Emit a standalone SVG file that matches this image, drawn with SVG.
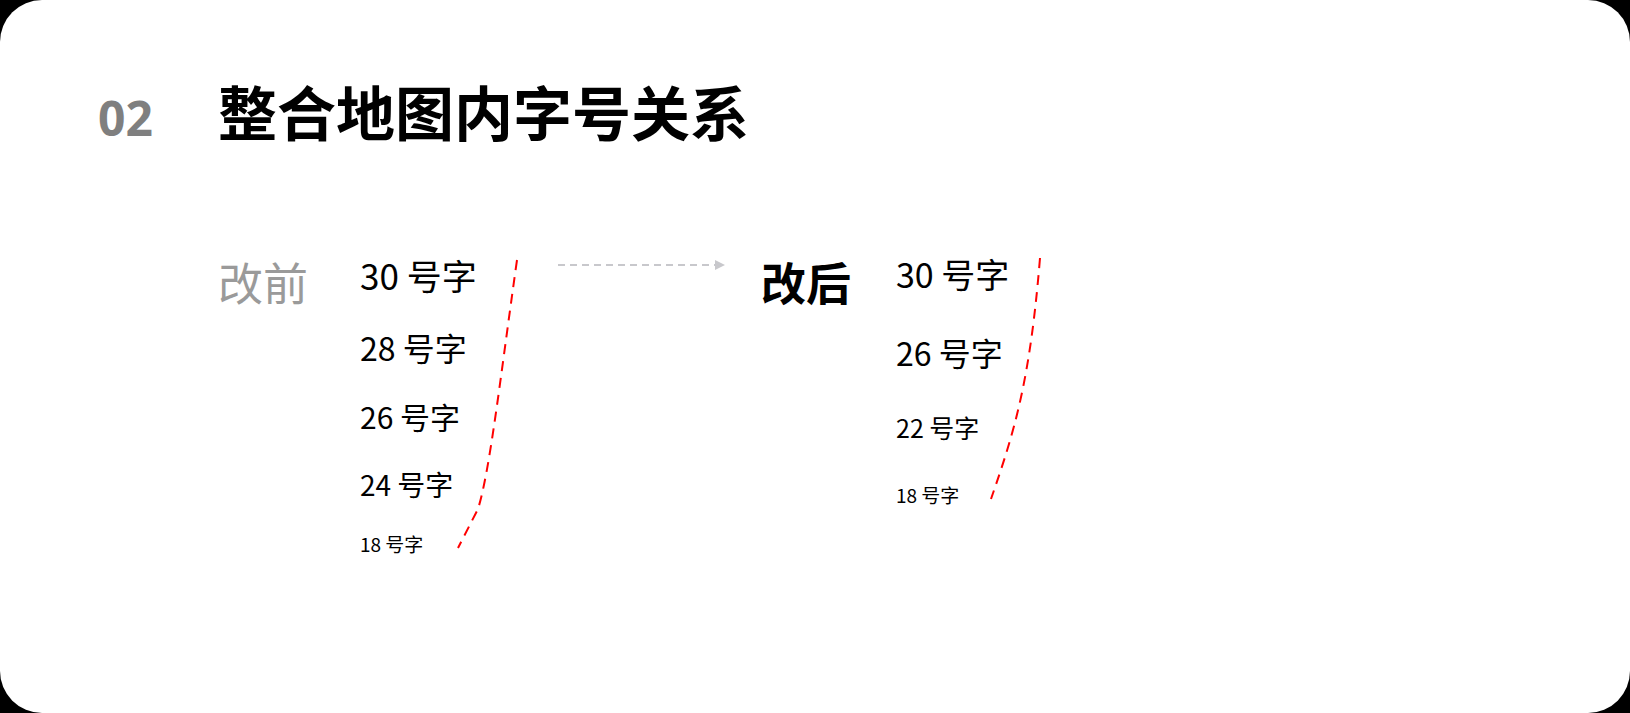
<svg xmlns="http://www.w3.org/2000/svg" width="1630" height="713" viewBox="0 0 1630 713">
<style>
text{font-family:"Noto Sans CJK SC","Noto Sans",sans-serif;fill:#000}
.red{fill:none;stroke:#ff0000;stroke-width:2;stroke-dasharray:10 7}
</style>
<defs><marker id="ah" markerWidth="10" markerHeight="10" refX="9" refY="5" orient="auto" markerUnits="userSpaceOnUse"><path d="M0,0L10,5L0,10z" fill="#c8c8cc"/></marker></defs>
<rect width="1630" height="713" fill="#000"/>
<rect width="1630" height="713" rx="42" fill="#fff"/>
<g id="title">
<text x="98" y="136" font-size="48" font-weight="700" style="fill:#7f7f7f;font-family:'Noto Sans','Noto Sans CJK SC',sans-serif">02</text>
<text x="218" y="136" font-size="59" font-weight="700">整合地图内字号关系</text>
</g>
<g id="before">
<text x="218" y="301" font-size="45" style="fill:#9a9a9a">改前</text>
<text x="360" y="290" font-size="35">30 号字</text>
<text x="360" y="361" font-size="32">28 号字</text>
<text x="360" y="429" font-size="30">26 号字</text>
<text x="360" y="496" font-size="28">24 号字</text>
<text x="360" y="552" font-size="19">18 号字</text>
</g>
<g id="after">
<text x="761" y="301" font-size="45" font-weight="700">改后</text>
<text x="896" y="288" font-size="34">30 号字</text>
<text x="896" y="366" font-size="32">26 号字</text>
<text x="896" y="438" font-size="25">22 号字</text>
<text x="896" y="503" font-size="19">18 号字</text>
</g>
<g id="connectors">
<path class="red" d="M517,260 C500,380 490,470 478,509 L458,548"/>
<path class="red" d="M1040,258 C1030,380 1015,430 991,499"/>
<line x1="558" y1="265" x2="724" y2="265" stroke="#c8c8cc" stroke-width="2" stroke-dasharray="7 5" marker-end="url(#ah)"/>
</g>
</svg>
